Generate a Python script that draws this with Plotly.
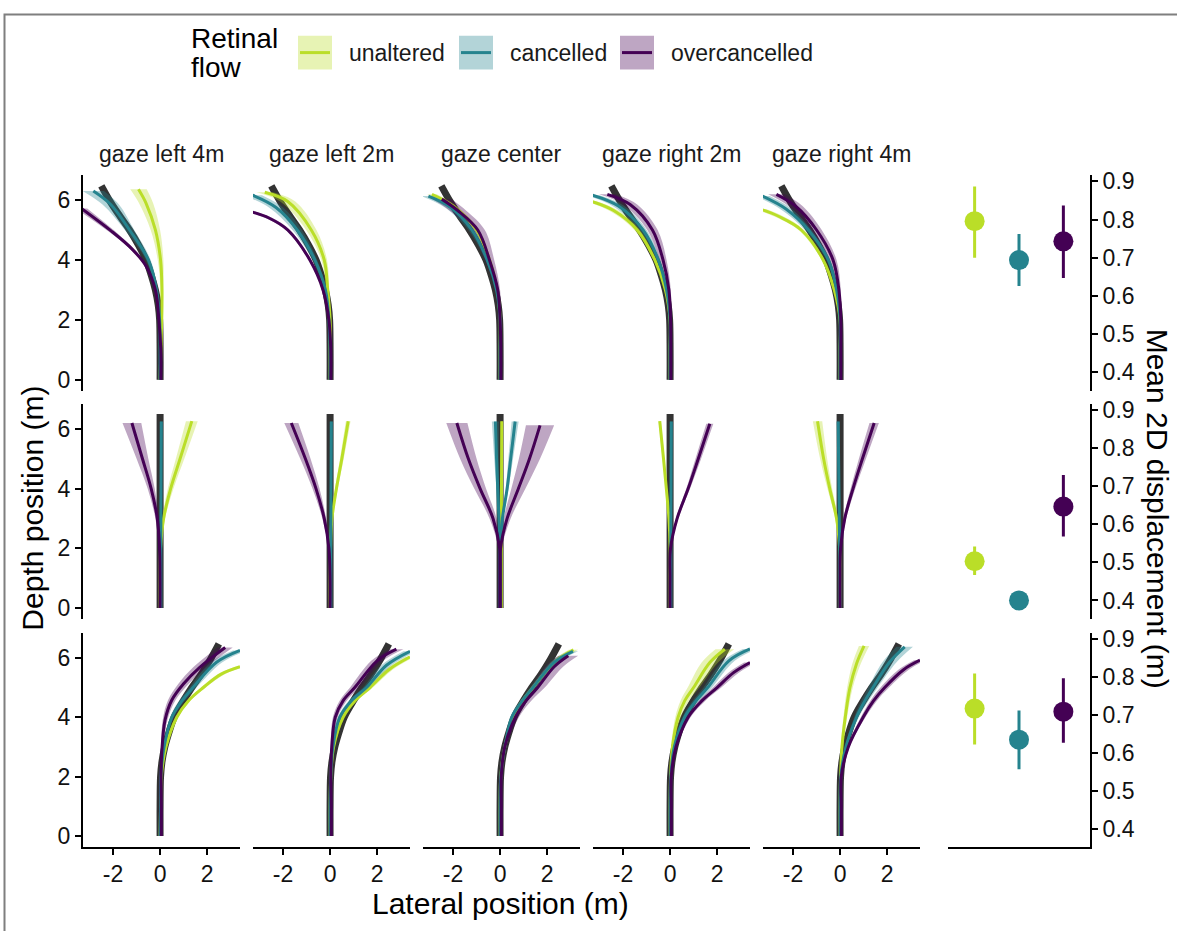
import plotly.graph_objects as go

W, H = 1177, 931
FONT = "Liberation Sans, Arial, Helvetica, sans-serif"

GAZES = ["gaze left 4m", "gaze left 2m", "gaze center", "gaze right 2m", "gaze right 4m"]
CONDITIONS = ["unaltered", "cancelled", "overcancelled"]
X_TICKS = [-2, 0, 2]
Y_TICKS = [0, 2, 4, 6]
DISP_TICKS = [0.4, 0.5, 0.6, 0.7, 0.8, 0.9]

# ---- ideal (reference) paths, (lateral, depth) ----
IDEAL_LEFT = [(0, 0), (0, 1), (-0.02, 2), (-0.08, 2.5), (-0.2, 3), (-0.38, 3.5), (-0.6, 4),
              (-0.92, 4.5), (-1.3, 5), (-1.7, 5.45), (-2.1, 5.92), (-2.5, 6.47)]
IDEAL_STRAIGHT = [(0, 0), (0, 6.5)]
IDEAL_RIGHT = [(0, 0), (0, 1), (0.02, 2), (0.08, 2.5), (0.2, 3), (0.38, 3.5), (0.6, 4),
               (0.95, 4.5), (1.35, 5), (1.75, 5.45), (2.12, 5.92), (2.5, 6.47)]

# ---- mean trajectories per gaze: list of curves, each point (lateral, depth, CI half-width) ----
LEFT_UNALTERED = [
    [[(0, 0, 0), (0.03, 1, 0), (0.07, 2, 0.02), (0.08, 3, 0.06), (0.02, 4, 0.12), (-0.2, 5, 0.2), (-0.6, 5.9, 0.3), (-0.92, 6.36, 0.35)]],
    [[(0, 0, 0), (0, 1, 0), (0, 2, 0.02), (-0.1, 3, 0.06), (-0.25, 4, 0.12), (-0.8, 5, 0.22), (-1.8, 5.95, 0.32), (-2.78, 6.26, 0.35)]],
    [[(0, 0, 0), (0, 1, 0), (0, 2, 0.02), (-0.12, 3, 0.04), (-0.45, 4, 0.06), (-1.0, 5, 0.1), (-2.0, 5.8, 0.15), (-2.9, 6.19, 0.2)]],
    [[(0, 0, 0), (0, 1, 0), (0, 2, 0.02), (-0.2, 3, 0.04), (-0.65, 4, 0.06), (-1.4, 5, 0.12), (-2.4, 5.65, 0.2), (-3.4, 5.97, 0.25)]],
    [[(0, 0, 0), (0, 1, 0), (0, 2, 0.02), (-0.25, 3, 0.04), (-0.72, 4, 0.06), (-1.65, 5, 0.12), (-2.6, 5.45, 0.2), (-3.4, 5.7, 0.25)]],
]
LEFT_CANCELLED = [
    [[(0, 0, 0), (0, 1, 0), (-0.02, 2, 0.02), (-0.15, 3, 0.05), (-0.5, 4, 0.1), (-1.3, 5, 0.2), (-2.1, 5.85, 0.35), (-2.84, 6.3, 0.45)]],
    [[(0, 0, 0), (0, 1, 0), (-0.05, 2, 0.02), (-0.2, 3, 0.05), (-0.65, 4, 0.1), (-1.4, 5, 0.2), (-2.3, 5.75, 0.3), (-3.3, 6.16, 0.4)]],
    [[(0, 0, 0), (0, 1, 0), (0, 2, 0.02), (-0.15, 3, 0.05), (-0.55, 4, 0.08), (-1.2, 5, 0.15), (-2.1, 5.75, 0.25), (-3.05, 6.13, 0.3)]],
    [[(0, 0, 0), (0, 1, 0), (0, 2, 0.02), (-0.15, 3, 0.05), (-0.5, 4, 0.08), (-1.15, 5, 0.15), (-2.2, 5.8, 0.25), (-3.3, 6.16, 0.3)]],
    [[(0, 0, 0), (0, 1, 0), (0, 2, 0.02), (-0.15, 3, 0.05), (-0.5, 4, 0.08), (-1.35, 5, 0.15), (-2.3, 5.7, 0.25), (-3.3, 6.13, 0.3)]],
]
LEFT_OVERCANCELLED = [
    [[(0.03, 0, 0), (0.03, 1, 0), (-0.05, 2, 0.02), (-0.2, 3, 0.03), (-0.6, 3.8, 0.05), (-1.2, 4.37, 0.08), (-2.1, 4.98, 0.15), (-3.35, 5.72, 0.25)]],
    [[(0.03, 0, 0), (0.03, 1, 0), (-0.05, 2, 0.02), (-0.3, 3, 0.03), (-0.86, 4, 0.05), (-1.8, 5, 0.1), (-2.6, 5.4, 0.15), (-3.4, 5.62, 0.2)]],
    [[(0.03, 0, 0), (0.03, 1, 0), (0, 2, 0.05), (-0.1, 3, 0.1), (-0.45, 4, 0.2), (-0.95, 5, 0.3), (-1.8, 5.65, 0.35), (-2.48, 6.03, 0.4)]],
    [[(0.03, 0, 0), (0.03, 1, 0), (0.02, 2, 0.03), (-0.05, 3, 0.08), (-0.3, 4, 0.15), (-0.75, 5, 0.22), (-1.7, 5.85, 0.3), (-2.67, 6.19, 0.35)]],
    [[(0.03, 0, 0), (0.03, 1, 0), (0.03, 2, 0.03), (-0.05, 3, 0.08), (-0.3, 4, 0.15), (-1.0, 5, 0.22), (-1.9, 5.8, 0.3), (-2.71, 6.19, 0.35)]],
]

STRAIGHT_UNALTERED = [
    [[(0, 0, 0), (0, 1, 0), (0.02, 2, 0.02), (0.15, 3, 0.06), (0.45, 4, 0.12), (0.85, 5, 0.18), (1.35, 6.26, 0.25)]],
    [[(0, 0, 0), (0, 1, 0), (0.02, 2, 0.02), (0.08, 3, 0.04), (0.27, 4, 0.06), (0.5, 5, 0.08), (0.77, 6.26, 0.1)]],
    [[(0.05, 0, 0), (0.05, 2, 0.01), (0.06, 4, 0.02), (0.07, 6.26, 0.03)]],
    [[(0, 0, 0), (0, 1, 0), (0, 2, 0.01), (-0.05, 3, 0.02), (-0.16, 4, 0.03), (-0.28, 5, 0.04), (-0.44, 6.26, 0.05)]],
    [[(0, 0, 0), (0, 1, 0), (-0.02, 2, 0.02), (-0.15, 3, 0.06), (-0.44, 4, 0.1), (-0.7, 5, 0.15), (-0.96, 6.26, 0.2)]],
]
STRAIGHT_CANCELLED = [
    [[(0.03, 0, 0), (0.03, 2, 0.01), (0.04, 4, 0.03), (0.05, 6.25, 0.06)]],
    [[(0.03, 0, 0), (0.03, 2, 0.01), (0.04, 4, 0.03), (0.05, 6.25, 0.06)]],
    [[(0, 0, 0), (0, 2, 0.01), (-0.05, 3, 0.03), (-0.1, 4, 0.06), (-0.15, 5, 0.1), (-0.2, 6.25, 0.15)],
     [(0, 0, 0), (0, 2, 0.01), (0.1, 3, 0.03), (0.3, 4, 0.06), (0.45, 5, 0.1), (0.64, 6.25, 0.15)]],
    [[(0.03, 0, 0), (0.03, 2, 0.01), (0.04, 4, 0.03), (0.05, 6.25, 0.06)]],
    [[(0, 0, 0), (-0.02, 2, 0.01), (-0.05, 4, 0.03), (-0.08, 6.25, 0.06)]],
]
STRAIGHT_OVERCANCELLED = [
    [[(0, 0, 0), (0, 1, 0), (-0.02, 2, 0.03), (-0.12, 3, 0.08), (-0.38, 4, 0.15), (-0.75, 5, 0.25), (-1.2, 6.2, 0.4)]],
    [[(0, 0, 0), (0, 1, 0), (-0.05, 2, 0.03), (-0.25, 3, 0.08), (-0.6, 4, 0.15), (-1.05, 5, 0.22), (-1.65, 6.2, 0.3)]],
    [[(0, 0, 0), (0, 1, 0), (-0.02, 2, 0.05), (-0.3, 3, 0.15), (-0.85, 4, 0.25), (-1.35, 5, 0.35), (-1.84, 6.2, 0.45)],
     [(0, 0, 0), (0, 1, 0), (0.02, 2, 0.05), (0.3, 3, 0.15), (0.78, 4, 0.3), (1.25, 5, 0.45), (1.7, 6.12, 0.6)]],
    [[(0, 0, 0), (0, 1, 0), (0.02, 2, 0.02), (0.3, 3, 0.05), (0.77, 4, 0.08), (1.2, 5, 0.12), (1.69, 6.17, 0.15)]],
    [[(0, 0, 0), (0, 1, 0), (0.02, 2, 0.02), (0.2, 3, 0.06), (0.55, 4, 0.1), (0.95, 5, 0.15), (1.45, 6.2, 0.2)]],
]

RIGHT_UNALTERED = [
    [[(0, 0, 0), (0.02, 1, 0), (0.05, 2, 0.02), (0.25, 3, 0.04), (0.71, 4, 0.06), (1.2, 4.55, 0.08), (1.84, 5, 0.1), (2.6, 5.45, 0.15), (3.4, 5.7, 0.2)]],
    [[(0, 0, 0), (0, 1, 0), (0.03, 2, 0.02), (0.15, 3, 0.04), (0.55, 4, 0.08), (1.05, 4.55, 0.1), (1.7, 5, 0.12), (2.5, 5.6, 0.16), (3.4, 6.03, 0.2)]],
    [[(0, 0, 0), (0, 1, 0), (0.03, 2, 0.02), (0.2, 3, 0.04), (0.55, 4, 0.06), (0.95, 4.55, 0.08), (1.4, 5, 0.1), (2.3, 5.85, 0.15), (3.12, 6.27, 0.2)]],
    [[(0, 0, 0), (0, 1, 0), (0.02, 2, 0.02), (0.1, 3, 0.06), (0.34, 4, 0.12), (0.62, 4.55, 0.18), (1.0, 5, 0.25), (1.7, 5.85, 0.35), (2.33, 6.29, 0.4)]],
    [[(0, 0, 0), (0, 1, 0), (0.02, 2, 0.02), (0.08, 3, 0.05), (0.22, 4, 0.08), (0.42, 5, 0.12), (0.7, 5.8, 0.18), (1.02, 6.4, 0.22)]],
]
RIGHT_CANCELLED = [
    [[(0, 0, 0), (0.02, 1, 0), (0.03, 2, 0.02), (0.17, 3, 0.04), (0.5, 4, 0.08), (0.88, 4.5, 0.12), (1.4, 5, 0.15), (2.4, 5.85, 0.25), (3.4, 6.25, 0.3)]],
    [[(0, 0, 0), (0, 1, 0), (0.03, 2, 0.02), (0.12, 3, 0.04), (0.41, 4, 0.08), (0.9, 4.55, 0.12), (1.55, 5, 0.15), (2.4, 5.75, 0.22), (3.4, 6.22, 0.28)]],
    [[(0, 0, 0), (0, 1, 0), (0.03, 2, 0.02), (0.2, 3, 0.04), (0.5, 4, 0.08), (0.9, 4.5, 0.1), (1.4, 5, 0.12), (2.3, 5.85, 0.18), (3.1, 6.22, 0.22)]],
    [[(0, 0, 0), (0, 1, 0), (0.03, 2, 0.02), (0.18, 3, 0.05), (0.62, 4, 0.1), (1.05, 4.5, 0.14), (1.6, 5, 0.18), (2.5, 5.9, 0.25), (3.4, 6.3, 0.3)]],
    [[(0, 0, 0), (0, 1, 0), (0.03, 2, 0.02), (0.25, 3, 0.05), (0.7, 4, 0.1), (1.02, 4.5, 0.15), (1.4, 5, 0.2), (2.1, 5.85, 0.3), (2.75, 6.37, 0.35)]],
]
RIGHT_OVERCANCELLED = [
    [[(0.05, 0, 0), (0.05, 1, 0), (0.04, 2, 0.02), (0.07, 2.8, 0.04), (0.21, 3.9, 0.1), (0.5, 4.58, 0.16), (1.0, 5.13, 0.22), (1.7, 5.69, 0.28), (2.77, 6.35, 0.32)]],
    [[(0.05, 0, 0), (0.05, 1, 0), (0.03, 2, 0.02), (0.07, 3, 0.05), (0.22, 4, 0.1), (0.55, 4.55, 0.15), (1.05, 5, 0.2), (2.0, 5.9, 0.25), (2.82, 6.29, 0.3)]],
    [[(0.05, 0, 0), (0.05, 1, 0), (0.05, 2, 0.03), (0.2, 3, 0.08), (0.65, 4, 0.15), (1.1, 4.55, 0.22), (1.6, 5, 0.3), (2.3, 5.7, 0.38), (2.9, 6.07, 0.42)]],
    [[(0.05, 0, 0), (0.05, 1, 0), (0.05, 2, 0.02), (0.25, 3, 0.05), (0.77, 4, 0.1), (1.35, 4.55, 0.14), (2.0, 5, 0.18), (2.7, 5.5, 0.22), (3.4, 5.84, 0.25)]],
    [[(0.05, 0, 0), (0.05, 1, 0), (0.05, 2, 0.02), (0.35, 3, 0.05), (0.98, 4, 0.1), (1.42, 4.55, 0.14), (1.9, 5, 0.18), (2.7, 5.6, 0.22), (3.4, 5.92, 0.25)]],
]

# ---- mean 2D displacement (m): mean, lower, upper per condition ----
DISP_LEFT = [(0.796, 0.700, 0.887), (0.694, 0.626, 0.762), (0.743, 0.647, 0.837)]
DISP_STRAIGHT = [(0.503, 0.467, 0.542), (0.400, 0.392, 0.408), (0.647, 0.568, 0.730)]
DISP_RIGHT = [(0.717, 0.622, 0.810), (0.635, 0.557, 0.712), (0.709, 0.627, 0.797)]

# ---- styling ----
LINE_COLORS = {"unaltered": "#BADE28", "cancelled": "#25838E", "overcancelled": "#440154"}
FILL_COLORS = {"unaltered": "rgba(186,222,40,0.35)", "cancelled": "rgba(37,131,142,0.35)",
               "overcancelled": "rgba(68,1,84,0.35)"}
IDEAL_COLOR = "#333333"

COL_PX = [(83, 240), (253, 410), (423, 580), (593, 750), (763, 920), (948, 1090)]
ROW_PX = [(170, 388), (401, 618), (632, 848)]
X_RANGE = [-3.28, 3.40]
Y_RANGE = [-0.36, 6.85]
DISP_RANGE = [0.352, 0.918]
TICK_SIZE = 23

ROWS = [
    (IDEAL_LEFT, [LEFT_UNALTERED, LEFT_CANCELLED, LEFT_OVERCANCELLED], DISP_LEFT),
    (IDEAL_STRAIGHT, [STRAIGHT_UNALTERED, STRAIGHT_CANCELLED, STRAIGHT_OVERCANCELLED], DISP_STRAIGHT),
    (IDEAL_RIGHT, [RIGHT_UNALTERED, RIGHT_CANCELLED, RIGHT_OVERCANCELLED], DISP_RIGHT),
]


def px_x(v):
    return v / W


def px_y(v):
    return 1 - v / H


fig = go.Figure()
layout = dict(
    width=W, height=H, margin=dict(l=0, r=0, t=0, b=0),
    paper_bgcolor="white", plot_bgcolor="white", showlegend=False,
    font=dict(family=FONT, color="#000000"),
)

for r, (ideal, cond_sets, disp) in enumerate(ROWS):
    for c in range(6):
        k = r * 6 + c + 1
        xa = "x" if k == 1 else f"x{k}"
        ya = "y" if k == 1 else f"y{k}"
        xkey = "xaxis" if k == 1 else f"xaxis{k}"
        ykey = "yaxis" if k == 1 else f"yaxis{k}"
        x0, x1 = COL_PX[c]
        y0, y1 = ROW_PX[r]
        xdom = [px_x(x0), px_x(x1)]
        ydom = [px_y(y1), px_y(y0)]
        bottom = (r == 2)
        if c < 5:
            layout[xkey] = dict(
                domain=xdom, anchor=ya, range=X_RANGE, showgrid=False, zeroline=False,
                showline=bottom, linecolor="black", linewidth=2,
                ticks="outside" if bottom else "", ticklen=6, tickwidth=2, tickcolor="black",
                tickvals=X_TICKS if bottom else [], ticktext=[str(t) for t in X_TICKS] if bottom else [],
                showticklabels=bottom, tickfont=dict(size=TICK_SIZE, color="#111111", family=FONT),
            )
            first = (c == 0)
            layout[ykey] = dict(
                domain=ydom, anchor=xa, range=Y_RANGE, showgrid=False, zeroline=False,
                showline=first, linecolor="black", linewidth=2,
                ticks="outside" if first else "", ticklen=6, tickwidth=2, tickcolor="black",
                tickvals=Y_TICKS if first else [], showticklabels=first,
                tickfont=dict(size=TICK_SIZE, color="#111111", family=FONT),
            )
            # ideal path
            fig.add_trace(go.Scatter(
                x=[p[0] for p in ideal], y=[p[1] for p in ideal], xaxis=xa, yaxis=ya,
                mode="lines", line=dict(color=IDEAL_COLOR, width=7, shape="spline"),
                hoverinfo="skip"))
            # ribbons (lower edge, then upper edge filled to it)
            for cond, cset in zip(CONDITIONS, cond_sets):
                for curve in cset[c]:
                    fig.add_trace(go.Scatter(
                        x=[p[0] - p[2] for p in curve], y=[p[1] for p in curve], xaxis=xa, yaxis=ya,
                        mode="lines", line=dict(width=0, shape="spline"), hoverinfo="skip"))
                    fig.add_trace(go.Scatter(
                        x=[p[0] + p[2] for p in curve], y=[p[1] for p in curve], xaxis=xa, yaxis=ya,
                        mode="lines", fill="tonextx", fillcolor=FILL_COLORS[cond],
                        line=dict(width=0, shape="spline"), hoverinfo="skip"))
            # mean lines
            for cond, cset in zip(CONDITIONS, cond_sets):
                for curve in cset[c]:
                    fig.add_trace(go.Scatter(
                        x=[p[0] for p in curve], y=[p[1] for p in curve], xaxis=xa, yaxis=ya,
                        mode="lines", line=dict(color=LINE_COLORS[cond], width=3, shape="spline"),
                        name=cond, hoverinfo="skip"))
        else:
            layout[xkey] = dict(
                domain=xdom, anchor=ya, type="category", categoryorder="array",
                categoryarray=CONDITIONS, range=[-0.6, 2.6], showgrid=False, zeroline=False,
                showline=bottom, linecolor="black", linewidth=2, ticks="", showticklabels=False,
            )
            layout[ykey] = dict(
                domain=ydom, anchor=xa, side="right", range=DISP_RANGE, showgrid=False,
                zeroline=False, showline=True, linecolor="black", linewidth=2,
                ticks="outside", ticklen=6, tickwidth=2, tickcolor="black",
                tickvals=DISP_TICKS, ticktext=[f"{t:.1f}" for t in DISP_TICKS],
                tickfont=dict(size=TICK_SIZE, color="#111111", family=FONT),
            )
            for cond, (m, lo, hi) in zip(CONDITIONS, disp):
                fig.add_trace(go.Scatter(
                    x=[cond], y=[m], xaxis=xa, yaxis=ya, mode="markers",
                    marker=dict(size=20, color=LINE_COLORS[cond]),
                    error_y=dict(type="data", symmetric=False, array=[hi - m], arrayminus=[m - lo],
                                 thickness=3, width=0, color=LINE_COLORS[cond]),
                    name=cond, hoverinfo="skip"))

annotations = []
# strip titles
for c, g in enumerate(GAZES):
    x0, x1 = COL_PX[c]
    annotations.append(dict(text=g, x=px_x((x0 + x1) / 2), y=px_y(149), xref="paper", yref="paper",
                            showarrow=False, xanchor="center", yanchor="middle",
                            font=dict(size=23, family=FONT, color="#1a1a1a")))
# axis titles
annotations.append(dict(text="Lateral position (m)", x=px_x(500), y=px_y(905), xref="paper", yref="paper",
                        showarrow=False, xanchor="center", yanchor="middle", font=dict(size=30, family=FONT)))
annotations.append(dict(text="Depth position (m)", x=px_x(33), y=px_y(507), xref="paper", yref="paper",
                        showarrow=False, xanchor="center", yanchor="middle", textangle=-90,
                        font=dict(size=30, family=FONT)))
annotations.append(dict(text="Mean 2D displacement (m)", x=px_x(1157), y=px_y(507), xref="paper", yref="paper",
                        showarrow=False, xanchor="center", yanchor="middle", textangle=90,
                        font=dict(size=30, family=FONT)))
# legend
annotations.append(dict(text="Retinal", x=px_x(189), y=px_y(33), xref="paper", yref="paper",
                        showarrow=False, xanchor="left", yanchor="middle", font=dict(size=28, family=FONT)))
annotations.append(dict(text="flow", x=px_x(189), y=px_y(62), xref="paper", yref="paper",
                        showarrow=False, xanchor="left", yanchor="middle", font=dict(size=28, family=FONT)))
shapes = []
KEY_X = [298, 459, 620]
for i, cond in enumerate(CONDITIONS):
    kx = KEY_X[i]
    shapes.append(dict(type="rect", xref="paper", yref="paper", x0=px_x(kx), x1=px_x(kx + 34),
                       y0=px_y(64), y1=px_y(30), fillcolor=FILL_COLORS[cond], line=dict(width=0)))
    shapes.append(dict(type="line", xref="paper", yref="paper", x0=px_x(kx + 2), x1=px_x(kx + 32),
                       y0=px_y(47), y1=px_y(47), line=dict(color=LINE_COLORS[cond], width=3)))
    annotations.append(dict(text=cond, x=px_x(kx + 49), y=px_y(47), xref="paper", yref="paper",
                            showarrow=False, xanchor="left", yanchor="middle",
                            font=dict(size=23, family=FONT, color="#1a1a1a")))
# outer frame
shapes.append(dict(type="rect", xref="paper", yref="paper", x0=px_x(4.5), x1=1.05,
                   y0=-0.05, y1=px_y(8.5), line=dict(color="#7f7f7f", width=2), fillcolor="rgba(0,0,0,0)"))

layout["annotations"] = annotations
layout["shapes"] = shapes
fig.update_layout(**layout)
fig.write_html("out.html", config={"displayModeBar": False},
               post_script="document.body.style.margin='0px';")
